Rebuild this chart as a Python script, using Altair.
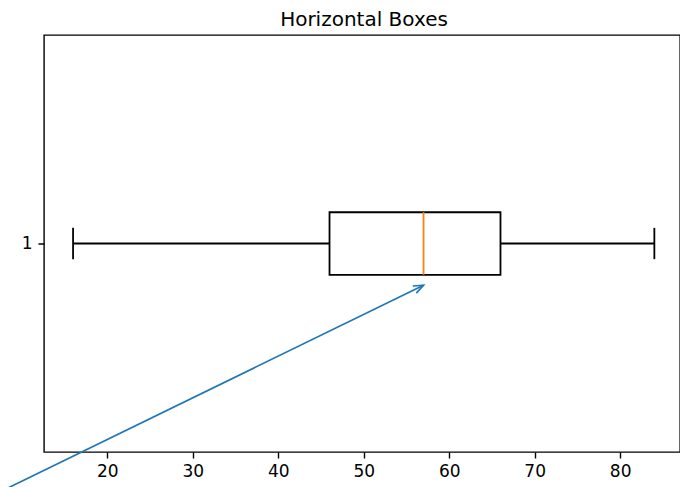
import math
import altair as alt
import pandas as pd

# Box statistics
whisker_low = [16]
q1 = [46]
median = [57]
q3 = [66]
whisker_high = [84]
position = [1]
box_width = 0.15

# Annotation arrow (data coordinates)
arrow_start = [0, 0.33]
arrow_tip = [57, 0.9]

x_ticks = [20, 30, 40, 50, 60, 70, 80]
x_domain = [12.6, 87.0]
y_domain = [0.5, 1.5]

W, H = 636, 417

stats = pd.DataFrame({
    "lo": whisker_low, "q1": q1, "med": median, "q3": q3, "hi": whisker_high,
    "pos": position,
})
stats["b0"] = stats["pos"] - box_width / 2
stats["b1"] = stats["pos"] + box_width / 2
stats["c0"] = stats["pos"] - box_width / 4
stats["c1"] = stats["pos"] + box_width / 4

xs = alt.Scale(domain=x_domain, nice=False, zero=False)
ys = alt.Scale(domain=y_domain, nice=False, zero=False)

xaxis = alt.Axis(values=x_ticks, grid=False, domain=False, ticks=True, tickColor="black",
                 tickSize=6, tickWidth=1.4, labelFontSize=17, labelColor="black",
                 labelFont="DejaVu Sans", labelPadding=5, title=None)
yaxis = alt.Axis(values=position, grid=False, domain=False, ticks=True, tickColor="black",
                 tickSize=6, tickWidth=1.5, labelFontSize=17,
                 labelColor="black", labelFont="DejaVu Sans", labelPadding=6,
                 title=None, format="d", tickRound=False)

base = alt.Chart(stats)

box = base.mark_rect(fill="white", stroke="black", strokeWidth=1.8).encode(
    x=alt.X("q1:Q", scale=xs, axis=xaxis), x2="q3:Q",
    y=alt.Y("b0:Q", scale=ys, axis=yaxis), y2="b1:Q")

wl = base.mark_rule(color="black", strokeWidth=1.8).encode(
    x=alt.X("lo:Q", scale=xs), x2="q1:Q", y=alt.Y("pos:Q", scale=ys))
wh = base.mark_rule(color="black", strokeWidth=1.8).encode(
    x=alt.X("q3:Q", scale=xs), x2="hi:Q", y=alt.Y("pos:Q", scale=ys))
cl = base.mark_rule(color="black", strokeWidth=1.8).encode(
    x=alt.X("lo:Q", scale=xs), y=alt.Y("c0:Q", scale=ys), y2="c1:Q")
ch = base.mark_rule(color="black", strokeWidth=1.8).encode(
    x=alt.X("hi:Q", scale=xs), y=alt.Y("c0:Q", scale=ys), y2="c1:Q")
med = base.mark_rule(color="#ff7f0e", strokeWidth=1.8).encode(
    x=alt.X("med:Q", scale=xs), y=alt.Y("b0:Q", scale=ys), y2="b1:Q")

arrow_df = pd.DataFrame({
    "x": [arrow_start[0]], "y": [arrow_start[1]],
    "x2": [arrow_tip[0]], "y2": [arrow_tip[1]],
})
arrow_line = alt.Chart(arrow_df).mark_rule(color="#1f77b4", strokeWidth=1.7).encode(
    x=alt.X("x:Q", scale=xs), x2="x2:Q", y=alt.Y("y:Q", scale=ys), y2="y2:Q")

dx_px = (arrow_tip[0] - arrow_start[0]) * W / (x_domain[1] - x_domain[0])
dy_px = (arrow_tip[1] - arrow_start[1]) * H / (y_domain[1] - y_domain[0])
head_angle = math.degrees(math.atan2(dx_px, dy_px))

head_df = pd.DataFrame({"x": [arrow_tip[0]], "y": [arrow_tip[1]]})
arrow_head = alt.Chart(head_df).mark_point(
    shape="M -0.4 1 L 0 0 L 0.4 1", filled=False, stroke="#1f77b4",
    strokeWidth=1.7, size=400, angle=head_angle, opacity=1,
).encode(x=alt.X("x:Q", scale=xs), y=alt.Y("y:Q", scale=ys))

chart = alt.layer(box, wl, wh, cl, ch, med, arrow_line, arrow_head).properties(
    width=W, height=H,
    title=alt.TitleParams("Horizontal Boxes", font="DejaVu Sans", fontSize=20,
                          fontWeight="normal", color="black", offset=5, dx=2),
    autosize="none",
    padding={"left": 36, "top": 27, "right": 0, "bottom": 35},
).configure(background="white").configure_view(stroke="black", strokeWidth=1.4)

chart.save("out.html", embed_options={"renderer": "svg", "actions": False})
